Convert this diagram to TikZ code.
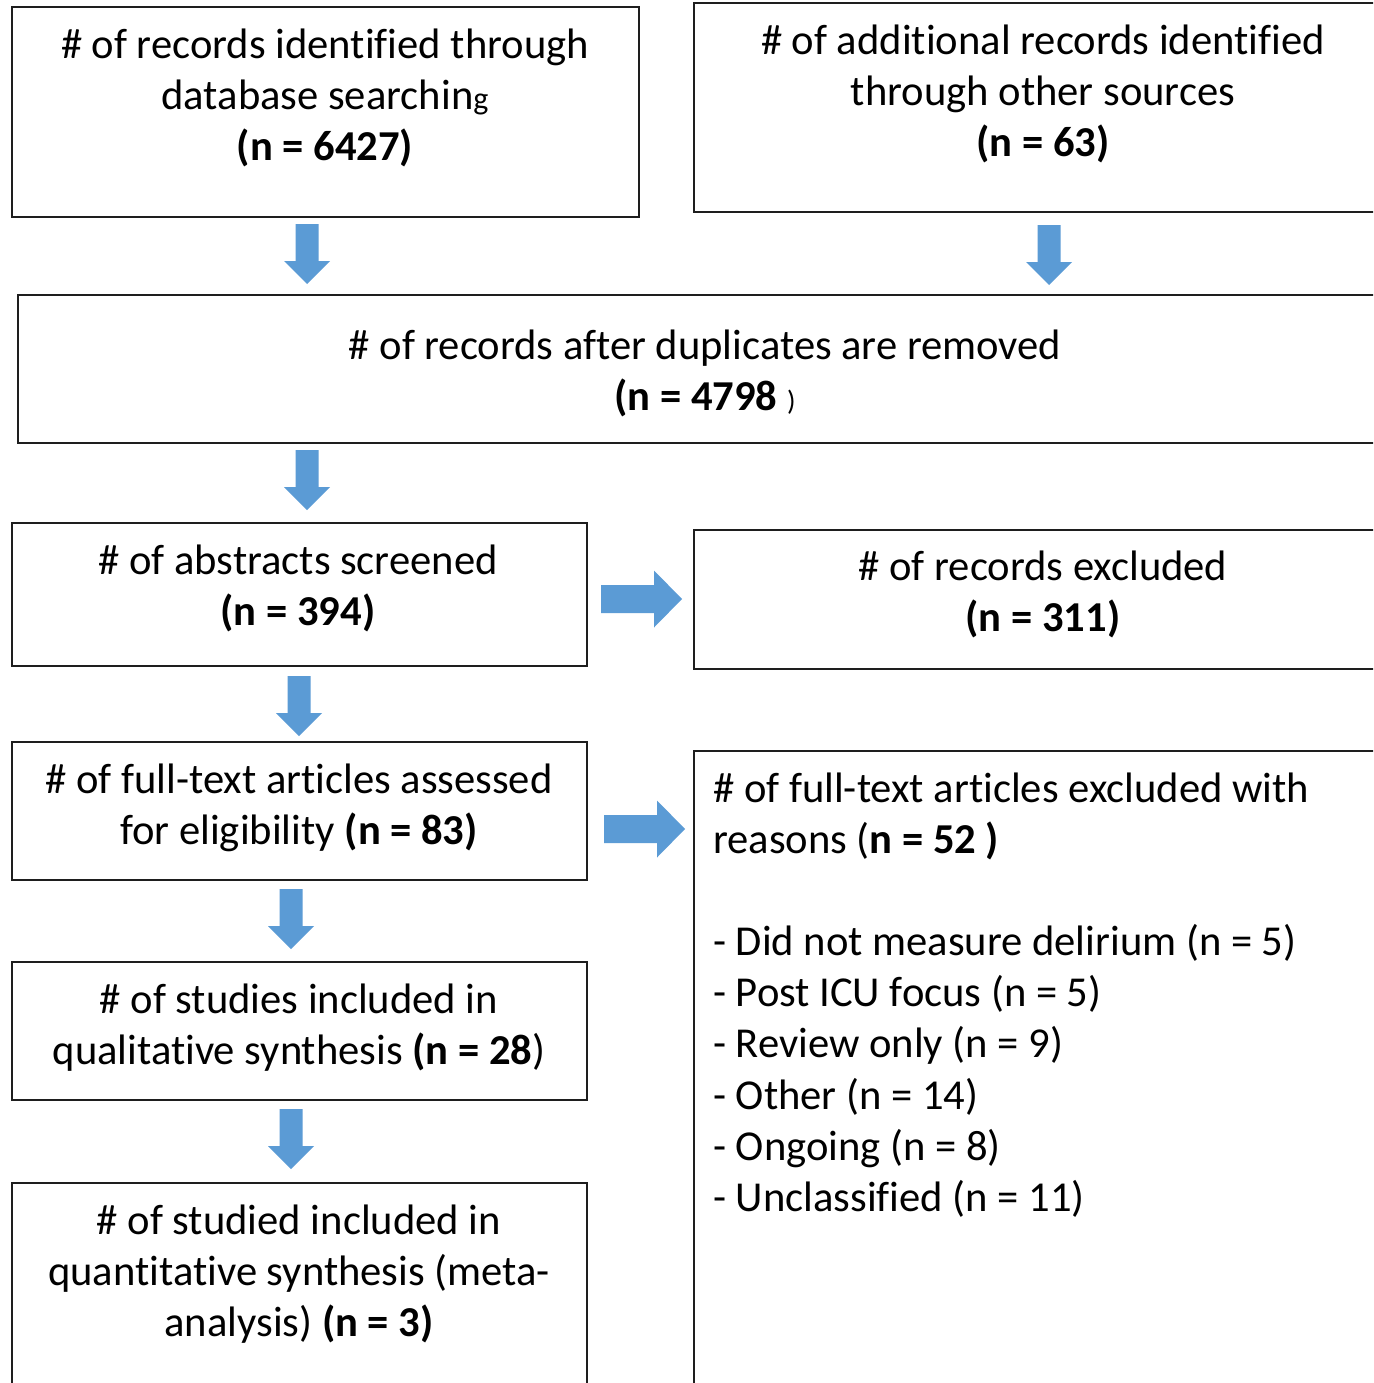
\documentclass[tikz,border=0pt]{standalone}
\usepackage{fontspec}
\setmainfont[Ligatures={TeX,NoCommon}]{Carlito}
\definecolor{arrowblue}{RGB}{91,155,213}
\definecolor{boxline}{RGB}{30,30,30}
\newcommand\flowdown[2]{\fill[arrowblue] (#1-11.5,#2) -- (#1+11.5,#2) -- (#1+11.5,#2+37) -- (#1+23,#2+37) -- (#1,#2+60) -- (#1-23,#2+37) -- (#1-11.5,#2+37) -- cycle;}
\newcommand\flowright[2]{\fill[arrowblue] (#1,#2-14) -- (#1+53,#2-14) -- (#1+53,#2-28.5) -- (#1+81,#2) -- (#1+53,#2+28.5) -- (#1+53,#2+14) -- (#1,#2+14) -- cycle;}
\begin{document}
\begin{tikzpicture}[x=1pt,y=-1pt,
  box/.style={draw=boxline, line width=1.5pt, rectangle, inner sep=0pt},
  txt/.style={anchor=base, inner sep=0pt, font=\fontsize{42.6}{51}\selectfont},
  txtl/.style={txt, anchor=base west}]
\clip (0,0) rectangle (1373,1383);
\fill[white] (0,0) rectangle (1373,1383);
% boxes
\node[box, minimum width=627, minimum height=210] (b1) at (325.5,112) {};
\node[box, minimum width=686, minimum height=209] (b2) at (1037,107.5) {};
\node[box, minimum width=1362, minimum height=148] (b3) at (699,369) {};
\node[box, minimum width=575, minimum height=143] (b4) at (299.5,594.5) {};
\node[box, minimum width=686, minimum height=139] (b5) at (1037,599.5) {};
\node[box, minimum width=575, minimum height=138] (b6) at (299.5,811) {};
\node[box, minimum width=686, minimum height=644] (b7) at (1037,1073) {};
\node[box, minimum width=575, minimum height=138] (b8) at (299.5,1031) {};
\node[box, minimum width=575, minimum height=212] (b9) at (299.5,1289) {};
% arrows
\flowdown{307}{224}
\flowdown{1049}{225}
\flowdown{307}{450}
\flowdown{299}{676}
\flowdown{291}{889}
\flowdown{291}{1109}
\flowright{601}{599}
\flowright{604}{829}
% texts
\node[txt] (t1a) at (325,59) {\# of records identified through};
\node[txt] (t1b) at (325,110) {database searchin{\fontsize{32}{32}\selectfont g}};
\node[txt] (t1c) at (325,161) {\textbf{(n = 6427)}};
\node[txt] (t2a) at (1043,55) {\# of additional records identified};
\node[txt] (t2b) at (1043,106) {through other sources};
\node[txt] (t2c) at (1043,157) {\textbf{(n = 63)}};
\node[txt] (t3a) at (705,359) {\# of records after duplicates are removed};
\node[txt] (t3b) at (705,410) {\textbf{(n = 4798} {\fontsize{28}{28}\selectfont )}};
\node[txt] (t4a) at (298,574) {\# of abstracts screened};
\node[txt] (t4b) at (298,625) {\textbf{(n = 394)}};
\node[txt] (t5a) at (1043,580) {\# of records excluded};
\node[txt] (t5b) at (1043,631) {\textbf{(n = 311)}};
\node[txt] (t6a) at (299,793) {\# of full-text articles assessed};
\node[txt] (t6b) at (299,844) {for eligibility \textbf{(n = 83)}};
\node[txtl] (t7a) at (713,802) {\# of full-text articles excluded with};
\node[txtl] (t7b) at (713,853) {reasons (\textbf{n = 52 )}};
\node[txtl] (t7c) at (713,955) {- Did not measure delirium (n = 5)};
\node[txtl] (t7d) at (713,1006) {- Post ICU focus (n = 5)};
\node[txtl] (t7e) at (713,1057) {- Review only (n = 9)};
\node[txtl] (t7f) at (713,1109) {- Other (n = 14)};
\node[txtl] (t7g) at (713,1160) {- Ongoing (n = 8)};
\node[txtl] (t7h) at (713,1211) {- Unclassified (n = 11)};
\node[txt] (t8a) at (299,1013) {\# of studies included in};
\node[txt] (t8b) at (299,1064) {qualitative synthesis \textbf{(n = 28})};
\node[txt] (t9a) at (299,1234) {\# of studied included in};
\node[txt] (t9b) at (299,1285) {quantitative synthesis (meta-};
\node[txt] (t9c) at (299,1336) {analysis) \textbf{(n = 3)}};
\end{tikzpicture}
\end{document}
